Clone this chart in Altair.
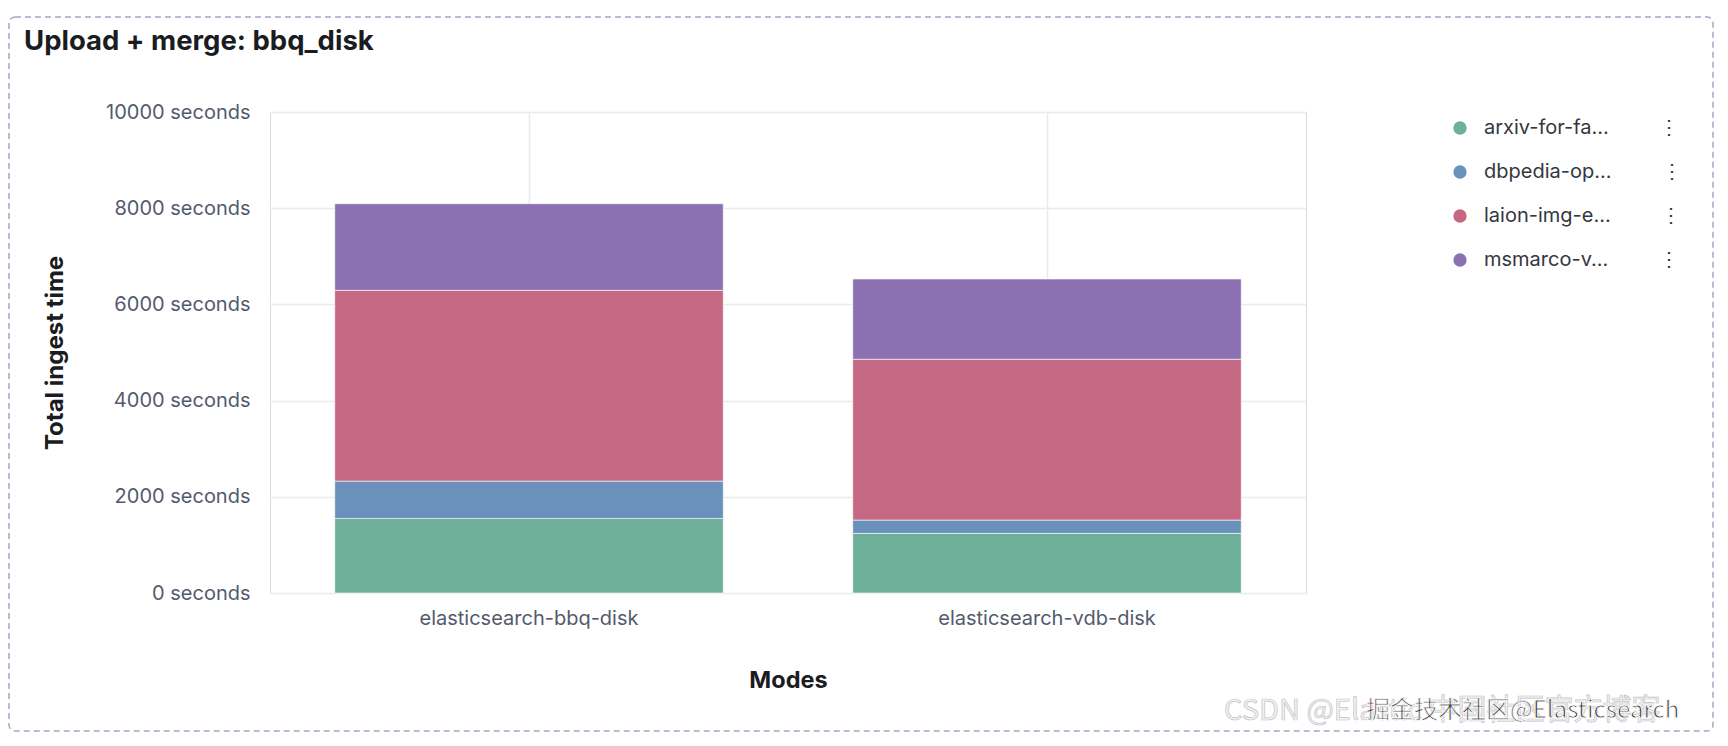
import altair as alt
import pandas as pd

# ---- data ----
modes = ["elasticsearch-bbq-disk", "elasticsearch-vdb-disk"]
datasets = ["arxiv-for-fa...", "dbpedia-op...", "laion-img-e...", "msmarco-v..."]
bbq_disk_seconds = [1551, 775, 3967, 1800]
vdb_disk_seconds = [1240, 276, 3344, 1668]
colors = ["#6daf98", "#6991bb", "#c56883", "#8c71b2"]
y_ticks = [0, 2000, 4000, 6000, 8000, 10000]
title_text = "Upload + merge: bbq_disk"
watermark_back = ["CSDN @Elastic 中国社区官方博客"]
watermark_front = ["掘金技术社区@Elasticsearch"]

rows = []
for m, vals in zip(modes, [bbq_disk_seconds, vdb_disk_seconds]):
    for d, v in zip(datasets, vals):
        rows.append({"mode": m, "dataset": d, "seconds": v})
df = pd.DataFrame(rows)

FONT = "Inter"
GRID = "#e8ebf0"
LABEL = "#535a6e"
DARK = "#1a1c21"

bars = alt.Chart(df).mark_bar(stroke="white", strokeWidth=0.6).encode(
    x=alt.X(
        "mode:N",
        sort=modes,
        title="Modes",
        scale=alt.Scale(paddingInner=0.25, paddingOuter=0.125),
        axis=alt.Axis(
            labelAngle=0, labelFontSize=20, labelColor=LABEL, labelFont=FONT,
            labelLimit=400,
            ticks=False, domain=False, grid=True, gridColor=GRID, gridWidth=1.5,
            bandPosition=0.5, labelPadding=15,
            titleFontSize=23.5, titleFontWeight="bold", titleColor=DARK, titleFont=FONT,
            titleY=87, titleBaseline="middle",
        ),
    ),
    y=alt.Y(
        "seconds:Q",
        stack="zero",
        title="Total ingest time",
        scale=alt.Scale(domain=[0, 10000], nice=False),
        axis=alt.Axis(
            values=y_ticks, labelExpr="datum.value + ' seconds'",
            labelFontSize=20, labelColor=LABEL, labelFont=FONT,
            ticks=False, domain=False, grid=True, gridColor=GRID, gridWidth=1.5,
            labelPadding=20,
            titleFontSize=24, titleFontWeight="bold", titleColor=DARK, titleFont=FONT,
            titleX=-215, titleY=240.5, titleAngle=270, titleBaseline="middle", titleAlign="center",
        ),
    ),
    color=alt.Color(
        "dataset:N",
        sort=datasets,
        scale=alt.Scale(domain=datasets, range=colors),
        legend=alt.Legend(
            title=None, orient="none", legendX=1180, legendY=6,
            symbolType="circle", symbolSize=177, symbolStrokeWidth=0,
            labelFontSize=20, labelFont=FONT, labelColor="#343741",
            labelOffset=14, rowPadding=24, padding=0, labelLimit=400,
            labelExpr="datum.label + '\u00a0\u00a0\u00a0\u00a0\u00a0\u00a0\u00a0\u00a0\u00a0⋮'",
        ),
    ),
    order=alt.Order("dataset:N", sort="ascending"),
)

border = alt.Chart(pd.DataFrame({"k": [0]})).mark_rect(
    fillOpacity=0, stroke="#a2a7c3", strokeWidth=1.5, strokeDash=[6, 4], cornerRadius=6
).encode(
    x=alt.value(-261), x2=alt.value(1443), y=alt.value(-95), y2=alt.value(619)
)

wm_back = alt.Chart(pd.DataFrame({"t": watermark_back})).mark_text(
    align="left", baseline="alphabetic", font="Noto Sans CJK SC", fontSize=29,
    color="#f2f2f2", stroke="#c4c4c4", strokeWidth=0.7
).encode(text="t:N", x=alt.value(954), y=alt.value(608))

wm_front = alt.Chart(pd.DataFrame({"t": watermark_front})).mark_text(
    align="left", baseline="alphabetic", font="Noto Sans CJK SC", fontSize=24,
    color="#3a3a3a", stroke="white", strokeWidth=0.8
).encode(text="t:N", x=alt.value(1096), y=alt.value(606))

chart = alt.layer(border, bars, wm_back, wm_front).properties(
    width=1036,
    height=481,
    autosize=alt.AutoSizeParams(type="none"),
    padding={"left": 262, "top": 104, "right": 414, "bottom": 145},
    title=alt.TitleParams(
        title_text, anchor="start", frame="group", dx=-246, dy=43,
        fontSize=27.5, font=FONT, fontWeight="bold", color=DARK,
    ),
).configure_view(stroke=GRID, strokeWidth=1.5).configure(background="white")

chart.save("out.html", embed_options={"renderer": "svg", "actions": False})
